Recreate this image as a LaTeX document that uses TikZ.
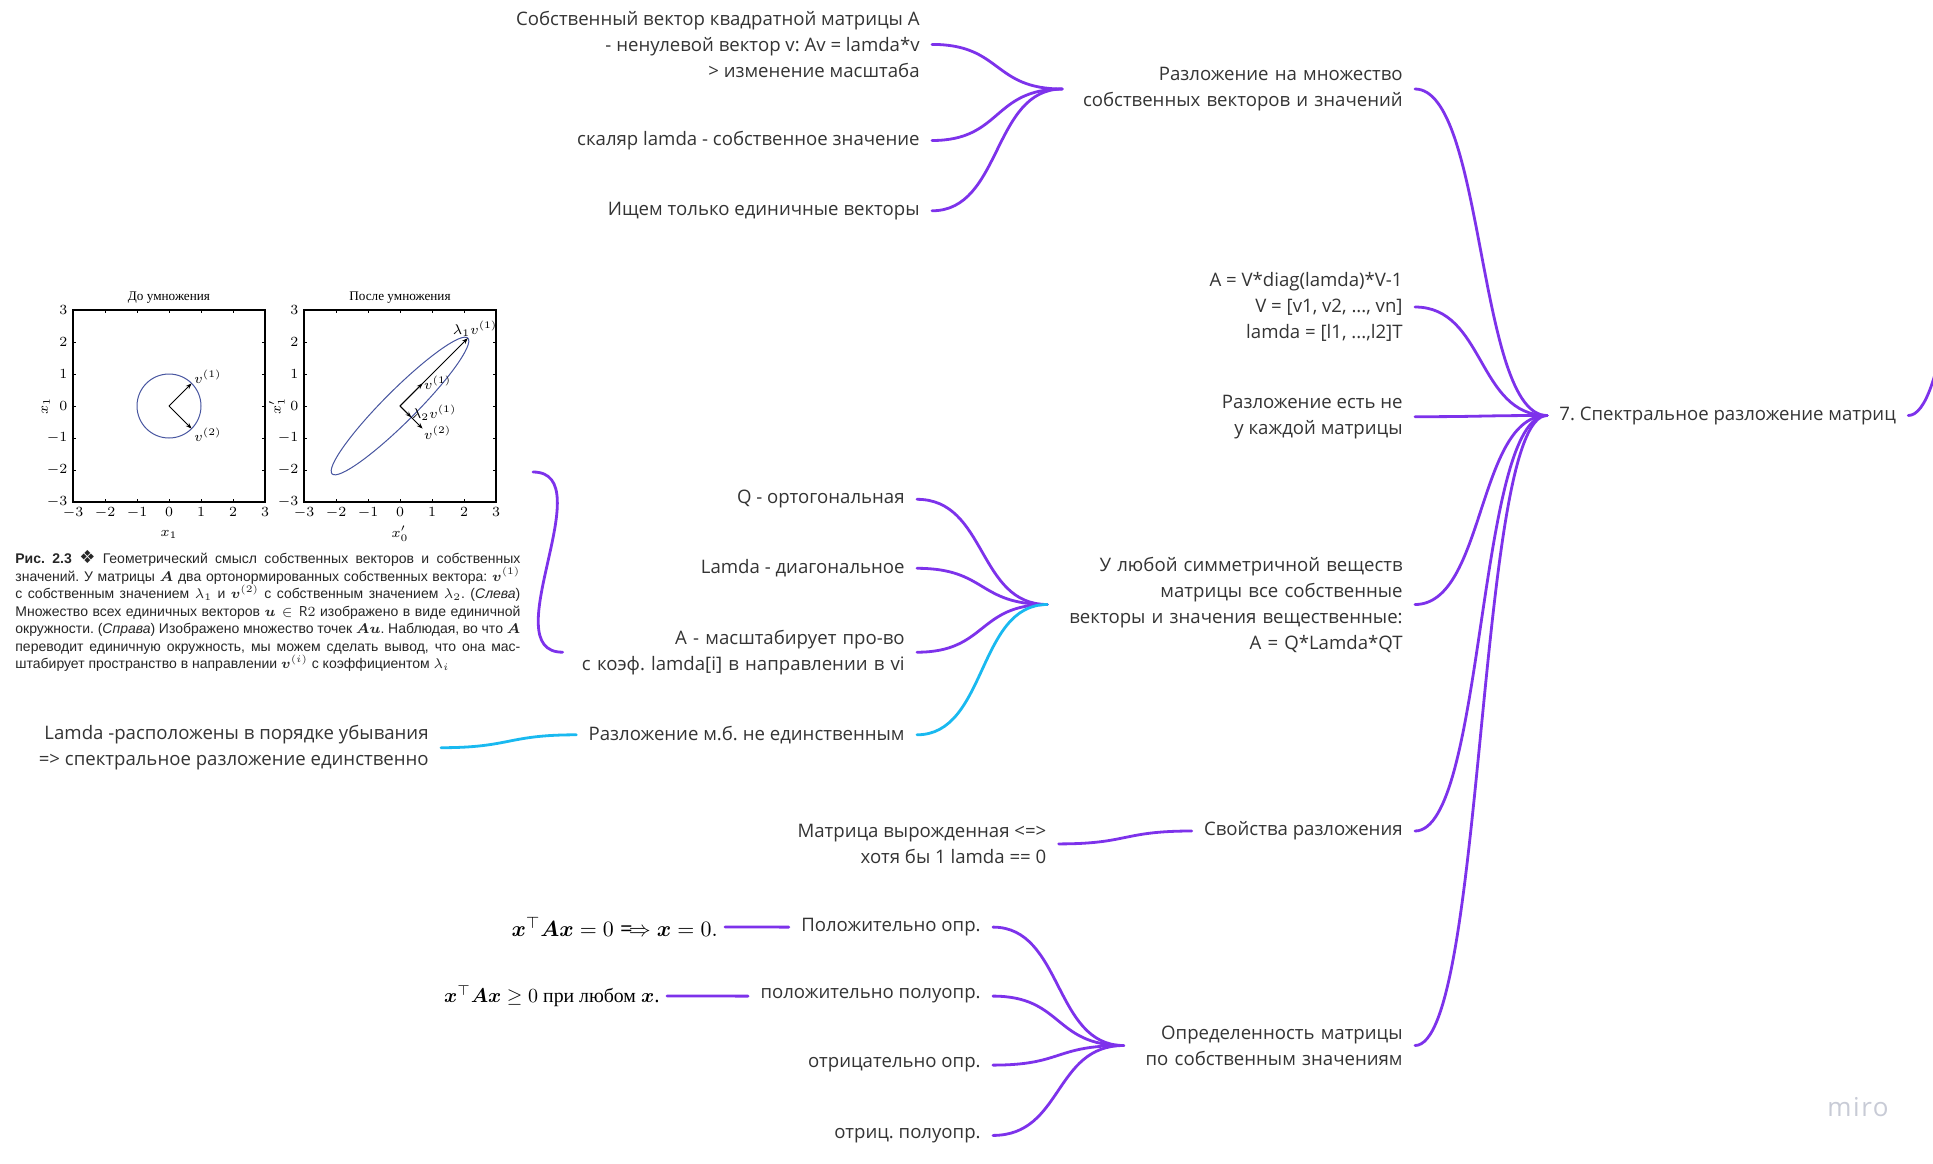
\documentclass[tikz,border=0pt]{standalone}
\usepackage{amsmath,bm}
\usepackage{fontspec}
\setmainfont{Open Sans}
\newfontfamily\capfont{Liberation Sans}
\newfontfamily\plotfont{Liberation Serif}
\newfontfamily\symfont{DejaVu Sans}
\newfontfamily\brandfont[LetterSpace=6]{Open Sans}
\usetikzlibrary{arrows.meta}
\definecolor{mmpurple}{RGB}{125,50,235}
\definecolor{mmblue}{RGB}{25,185,240}
\definecolor{mmtext}{RGB}{52,52,52}
\definecolor{mmgray}{RGB}{200,203,214}
\definecolor{plotblue}{RGB}{72,86,160}

\tikzset{
  txt/.style={anchor=east, align=right, inner xsep=6pt, inner ysep=2pt,
    text=mmtext, font=\fontsize{9.3}{13}\selectfont\frenchspacing},
  branch/.style={draw=mmpurple, line width=1.4pt, line cap=round,
    out=0, in=180, distance=35pt},
  bluebranch/.style={branch, draw=mmblue},
  formula/.style={anchor=east, inner xsep=3.5pt, text=black},
  ticklbl/.style={font=\fontsize{7}{7}\selectfont, inner sep=1pt},
  plotline/.style={draw=plotblue, line width=0.5pt},
  vec/.style={-{Stealth[length=3pt,width=2.2pt]}, line width=0.5pt},
}

% frame of one small plot: prefix, x label, y label, title
\newcommand\axesframe[4]{%
  \draw[line width=0.6pt] (-3,-3) rectangle (3,3);
  \foreach \t [count=\i] in {-3,...,3} {
    \draw[line width=0.4pt] (\t,-3) -- ++(0,0.08) (\t,3) -- ++(0,-0.08)
      (-3,\t) -- ++(0.08,0) (3,\t) -- ++(-0.08,0);
    \node[ticklbl, anchor=north] (#1x\i) at (\t,-3.1) {$\t$};
    \node[ticklbl, anchor=east] (#1y\i) at (-3.1,\t) {$\t$};
  }
  \node[ticklbl] (#1xlab) at (0,-4.0) {#2};
  \node[ticklbl, rotate=90] (#1ylab) at (-3.85,0) {#3};
  \node[ticklbl, font=\plotfont\fontsize{6.6}{7}\selectfont] (#1title) at (0,3.4) {#4};
}

\begin{document}
\begin{tikzpicture}[x=0.5pt,y=-0.5pt]
  \fill[white] (0,0) rectangle (1933,1163);
  \useasboundingbox (0,0) rectangle (1933,1163);
  \clip (0,0) rectangle (1933,1163);

  % embedded figure: two plots and caption
  \begin{scope}[shift={(169,406)}, x=16pt, y=16pt]
    \axesframe{L}{$x_1$}{$x_1$}{До умножения}
    \draw[plotline] (0,0) circle (1);
    \draw[vec] (0,0) -- (0.707,0.707);
    \draw[vec] (0,0) -- (0.707,-0.707);
    \node[ticklbl, anchor=south west] (Lv1) at (0.72,0.62) {$v^{(1)}$};
    \node[ticklbl, anchor=north west] (Lv2) at (0.72,-0.6) {$v^{(2)}$};
  \end{scope}
  \begin{scope}[shift={(400,406)}, x=16pt, y=16pt]
    \axesframe{R}{$x'_0$}{$x'_1$}{После умножения}
    \draw[plotline, rotate=45] (0,0) ellipse (3 and 0.5);
    \draw[vec] (0,0) -- (2.12,2.12);
    \draw[vec] (0,0) -- (0.707,0.707);
    \draw[vec] (0,0) -- (0.707,-0.707);
    \draw[vec] (0,0) -- (0.354,-0.354);
    \node[ticklbl, anchor=south] (Rl1) at (2.35,2.1) {$\lambda_1 v^{(1)}$};
    \node[ticklbl, anchor=west] (Rv1) at (0.68,0.72) {$v^{(1)}$};
    \node[ticklbl, anchor=west] (Rl2) at (0.3,-0.2) {$\lambda_2 v^{(1)}$};
    \node[ticklbl, anchor=north west] (Rv2) at (0.68,-0.55) {$v^{(2)}$};
  \end{scope}
  \node[anchor=north west, inner sep=0, text width=252.5pt, align=justify,
    text=black!85, font=\capfont\fontsize{7}{8.75}\selectfont\frenchspacing] (caption) at (15,550)
    {{\bfseries Рис. 2.3} {\symfont\small ❖} Геометрический смысл собственных векторов и собственных\linebreak
     значений. У~матрицы $\bm{A}$ два ортонормированных собственных вектора: $\bm{v}^{(1)}$\linebreak
     с собственным значением $\lambda_1$ и $\bm{v}^{(2)}$ с собственным значением $\lambda_2$. (\textit{Слева})\linebreak
     Множество всех единичных векторов $\bm{u}\in\mathrm{R}2$ изображено в виде единичной\linebreak
     окружности. (\textit{Справа}) Изображено множество точек $\bm{A}\bm{u}$. Наблюдая, во что $\bm{A}$\linebreak
     переводит единичную окружность, мы можем сделать вывод, что она мас-\linebreak
     штабирует пространство в направлении $\bm{v}^{(i)}$ с коэффициентом $\lambda_i$};
  \node[inner sep=0, minimum width=260pt, minimum height=190pt] (fig) at (272.6,472) {};

  % root
  \node[txt, anchor=west] (root) at (1547,415.5) {7. Спектральное разложение матриц};
  \coordinate (upper) at (2042,-270);

  % first level
  \node[txt, text width=164pt] (decomp) at (1415,89)
    {Разложение на множество\\собственных векторов и значений};
  \node[txt] (eigdec) at (1415,307)
    {A = V*diag(lamda)*V-1\\V = [v1, v2, ..., vn]\\lamda = [l1, ...,l2]T};
  \node[txt] (notall) at (1415,416.7) {Разложение есть не\\у каждой матрицы};
  \node[txt, text width=171.5pt] (symm) at (1415,604.5)
    {У любой симметричной веществ\\матрицы все собственные\\векторы и значения вещественные:\\A = Q*Lamda*QT};
  \node[txt] (props) at (1415,831) {Свойства разложения};
  \node[txt, text width=133.3pt] (definite) at (1415,1045.5)
    {Определенность матрицы\\по собственным значениям};

  % eigen vectors
  \node[txt] (eigvec) at (932,44.4)
    {Собственный вектор квадратной матрицы А\\- ненулевой вектор v: Av = lamda*v\\> изменение масштаба};
  \node[txt] (eigval) at (932,140.5) {скаляр lamda - собственное значение};
  \node[txt] (unitvec) at (932,210.8) {Ищем только единичные векторы};

  % symmetric matrices
  \node[txt] (ortho) at (917,499.3) {Q - ортогональная};
  \node[txt] (diag) at (917,568.3) {Lamda - диагональное};
  \node[txt, text width=164.8pt] (scale) at (917,652.2)
    {A - масштабирует про-во\\с коэф. lamda[i] в направлении в vi};
  \node[txt] (notuniq) at (917,734.8) {Разложение м.б. не единственным};
  \node[txt] (sorted) at (441,747.7)
    {Lamda -расположены в порядке убывания\\=> спектральное разложение единственно};

  % properties
  \node[txt] (singular) at (1058.7,843.9) {Матрица вырожденная <=>\\хотя бы 1 lamda == 0};

  % definiteness
  \node[txt] (posdef) at (993,927.1) {Положительно опр.};
  \node[txt] (possemi) at (993,996.1) {положительно полуопр.};
  \node[txt] (negdef) at (993,1065.1) {отрицательно опр.};
  \node[txt] (negsemi) at (993,1135.4) {отриц. полуопр.};
  \node[formula, font=\fontsize{11}{11}\selectfont] (posform) at (725,927)
    {$\bm{x}^{\top}\bm{A}\bm{x} = 0 \Longrightarrow \bm{x} = 0.$};
  \node[formula, font=\fontsize{9.9}{9.9}\selectfont] (semiform) at (667,996)
    {$\bm{x}^{\top}\bm{A}\bm{x} \geq 0$ {\plotfont при любом} $\bm{x}$.};

  \node[text=mmgray, font=\brandfont\fontsize{13}{13}\selectfont] (brand) at (1858,1107) {miro};

  % connectors
  \draw[branch] (root.east) to (upper);
  \foreach \n in {decomp,eigdec,notall,symm,props,definite}
    \draw[branch] (\n.east) to (root.west);
  \foreach \n in {eigvec,eigval,unitvec}
    \draw[branch] (\n.east) to (decomp.west);
  \foreach \n in {ortho,diag,scale}
    \draw[branch] (\n.east) to (symm.west);
  \draw[bluebranch] (notuniq.east) to (symm.west);
  \draw[bluebranch] (sorted.east) to (notuniq.west);
  \draw[branch] (fig.east) to (scale.west);
  \draw[branch] (singular.east) to (props.west);
  \foreach \n in {posdef,possemi,negdef,negsemi}
    \draw[branch] (\n.east) to (definite.west);
  \draw[branch] (posform.east) -- (posdef.west);
  \draw[branch] (semiform.east) -- (possemi.west);
\end{tikzpicture}
\end{document}
